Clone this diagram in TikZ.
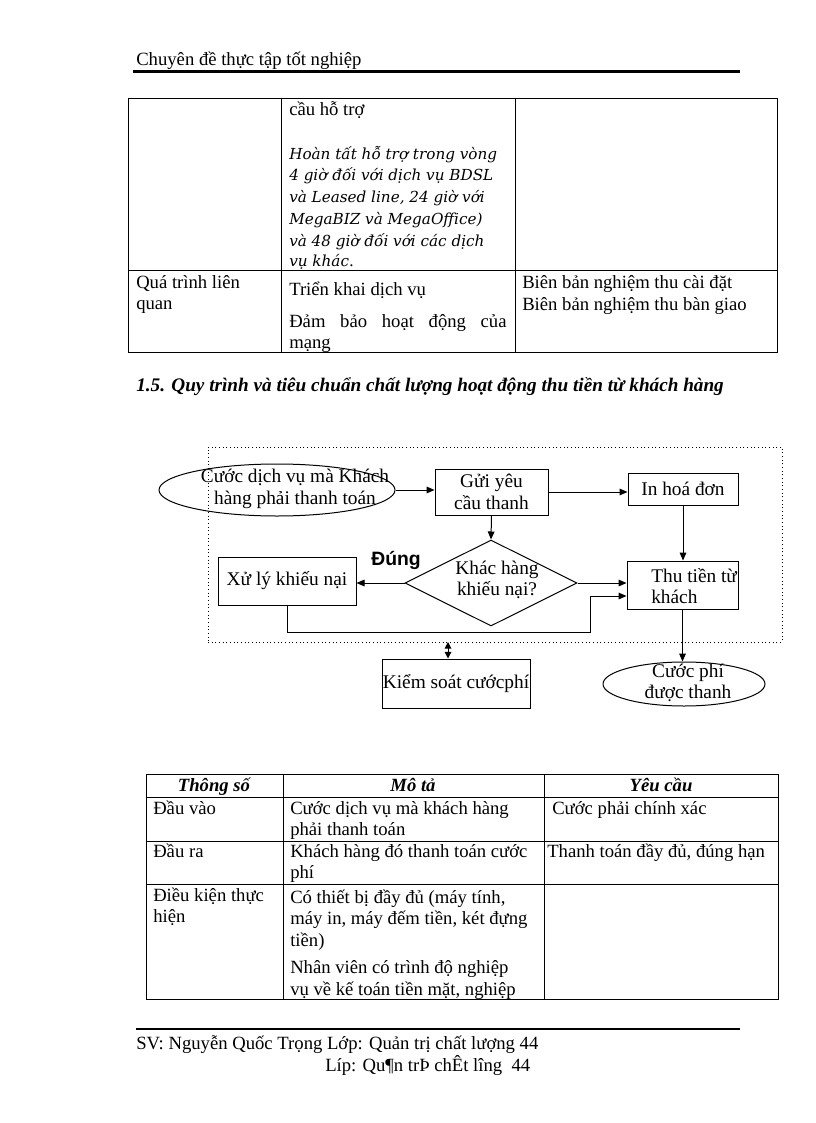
\documentclass[tikz,border=0pt]{standalone}
\usepackage{fontspec}
\setmainfont{Liberation Serif}
\newfontfamily\sansfnt{Liberation Sans}
\newfontfamily\itfnt{DejaVu Serif}
\usetikzlibrary{shapes.geometric,arrows.meta}
\begin{document}
\begin{tikzpicture}[x=0.75pt,y=-0.75pt,
  txt/.style={anchor=base west, inner sep=0pt, font=\fontsize{14}{16}\selectfont},
  ctxt/.style={anchor=base, inner sep=0pt, font=\fontsize{14}{16}\selectfont\bfseries\itshape},
  itxt/.style={anchor=base west, inner sep=0pt, font=\fontsize{11.4}{13}\selectfont\itfnt\itshape},
  tline/.style={line width=0.75pt},
  rule/.style={line width=2pt},
  box/.style={draw, line width=0.75pt, inner sep=0pt, align=center, font=\fontsize{14.5}{16}\selectfont},
  lbl/.style={inner sep=0pt, align=center, font=\fontsize{14.5}{16}\selectfont},
  flow/.style={line width=0.75pt, -{Triangle[length=6pt,width=5pt]}},
  dbl/.style={line width=0.75pt, {Triangle[length=5pt,width=5pt]}-{Triangle[length=5pt,width=5pt]}}]
\fill[white] (0,0) rectangle (816,1123);
\useasboundingbox (0,0) rectangle (816,1123);
% header
\node[txt] (hd) at (136,66) {Chuyên đề thực tập tốt nghiệp};
\draw[rule] (133,71.5) -- (740,71.5);
% top table
\draw[tline] (128,99) rectangle (777,352);
\draw[tline] (281,99) -- (281,352);
\draw[tline] (515,99) -- (515,352);
\draw[tline] (128,270) -- (777,270);
\node[txt] (t1) at (289,116) {cầu hỗ trợ};
\node[itxt] (t2) at (289,160) {Hoàn tất hỗ trợ trong vòng};
\node[itxt] (t3) at (289,181) {4 giờ đối với dịch vụ BDSL};
\node[itxt] (t4) at (289,203) {và Leased line, 24 giờ với};
\node[itxt] (t5) at (289,224) {MegaBIZ và MegaOffice)};
\node[itxt] (t6) at (289,246) {và 48 giờ đối với các dịch};
\node[itxt] (t7) at (289,266) {vụ khác{\upshape .}};
\node[txt] (t8) at (136,288) {Quá trình liên};
\node[txt] (t9) at (136,309) {quan};
\node[txt] (t10) at (289,295) {Triển khai dịch vụ};
\node[txt] (t11) at (289,327) {\hbox to 163pt{Đảm\hfil bảo\hfil hoạt\hfil động\hfil của}};
\node[txt] (t12) at (289,348) {mạng};
\node[txt] (t13) at (522,288) {Biên bản nghiệm thu cài đặt};
\node[txt] (t14) at (522,310) {Biên bản nghiệm thu bàn giao};
% heading
\node[txt, font=\fontsize{14.4}{16}\selectfont\bfseries\itshape] (h15) at (136,391) {1.5. Quy trình và tiêu chuẩn chất lượng hoạt động thu tiền từ khách hàng};
% diagram
\node[draw, dotted, line width=0.75pt, minimum width=430.5pt, minimum height=146.25pt, inner sep=0pt] (frame) at (495,544.5) {};
\node[draw, ellipse, line width=0.75pt, minimum width=177pt, minimum height=39pt, inner sep=0pt] (e1) at (277,490) {};
\node[lbl] (e1t) at (295,489) {Cước dịch vụ mà Khách\\hàng phải thanh toán};
\node[box, minimum width=84.75pt, minimum height=34.5pt] (send) at (491.5,492) {Gửi yêu\\cầu thanh};
\node[box, minimum width=82.5pt, minimum height=24pt] (inv) at (683,489) {In hoá đơn};
\node[draw, diamond, line width=0.75pt, minimum width=129pt, minimum height=64.5pt, inner sep=0pt] (dia) at (491,583) {};
\node[lbl] (diat) at (497,580) {Khác hàng\\khiếu nại?};
\node[box, minimum width=103.5pt, minimum height=36pt] (xl) at (287,581) {Xử lý khiếu nại};
\node[box, minimum width=83.25pt, minimum height=36pt] (thu) at (682.5,585) {};
\node[lbl, align=left, anchor=west] (thut) at (651,586) {Thu tiền từ\\khách};
\node[box, minimum width=111pt, minimum height=36.75pt] (ks) at (456,683.5) {Kiểm soát cướcphí};
\node[draw, ellipse, line width=0.75pt, minimum width=121.5pt, minimum height=33pt, inner sep=0pt] (e2) at (684,684) {};
\node[lbl] (e2t) at (688,683) {Cước phí\\được thanh};
\node[inner sep=0pt, font=\fontsize{14.5}{16}\selectfont\sansfnt\bfseries] (dung) at (396,560) {Đúng};
\draw[flow] (e1.east) -- (e1.east -| send.west);
\draw[flow] (send.east) -- (send.east -| inv.west);
\draw[flow] (send.south) -- (dia.north);
\draw[flow] (dia.west) -- (dia.west -| xl.east);
\draw[flow] (inv.south) -- (inv.south |- thu.north);
\draw[flow] (dia.east) -- (dia.east -| thu.west);
\coordinate (c1) at (590,632);
\coordinate (c2) at (590,596);
\draw[flow] (xl.south) |- (c1) -- (c2) -- (c2 -| thu.west);
\draw[flow] (thu.south) -- (thu.south |- e2.north);
\coordinate (d1) at (448,642);
\draw[dbl] (d1) -- (d1 |- ks.north);
% bottom table
\draw[tline] (146,774) rectangle (778,999);
\draw[tline] (283,774) -- (283,999);
\draw[tline] (544,774) -- (544,999);
\draw[tline] (146,797) -- (778,797);
\draw[tline] (146,841) -- (778,841);
\draw[tline] (146,884) -- (778,884);
\node[ctxt] (b1) at (214,791) {Thông số};
\node[ctxt] (b2) at (413,791) {Mô tả};
\node[ctxt] (b3) at (661,791) {Yêu cầu};
\node[txt] (b4) at (153,814) {Đầu vào};
\node[txt] (b5) at (290,814) {Cước dịch vụ mà khách hàng};
\node[txt] (b6) at (290,835) {phải thanh toán};
\node[txt] (b7) at (552,814) {Cước phải chính xác};
\node[txt] (b8) at (153,857) {Đầu ra};
\node[txt] (b9) at (290,857) {Khách hàng đó thanh toán cước};
\node[txt] (b10) at (290,878) {phí};
\node[txt] (b11) at (547,857) {Thanh toán đầy đủ, đúng hạn};
\node[txt] (b12) at (153,901) {Điều kiện thực};
\node[txt] (b13) at (153,922) {hiện};
\node[txt] (b14) at (290,903) {Có thiết bị đầy đủ (máy tính,};
\node[txt] (b15) at (290,924) {máy in, máy đếm tiền, két đựng};
\node[txt] (b16) at (290,946) {tiền)};
\node[txt] (b17) at (290,973) {Nhân viên có trình độ nghiệp};
\node[txt] (b18) at (290,995) {vụ về kế toán tiền mặt, nghiệp};
% footer
\draw[rule] (136,1029) -- (740,1029);
\node[txt] (f1) at (136,1049) {SV: Nguyễn Quốc Trọng Lớp: Quản trị chất lượng 44};
\node[txt] (f2) at (325,1071) {Líp: Qu¶n trÞ chÊt lîng\ \ 44};
\end{tikzpicture}
\end{document}
